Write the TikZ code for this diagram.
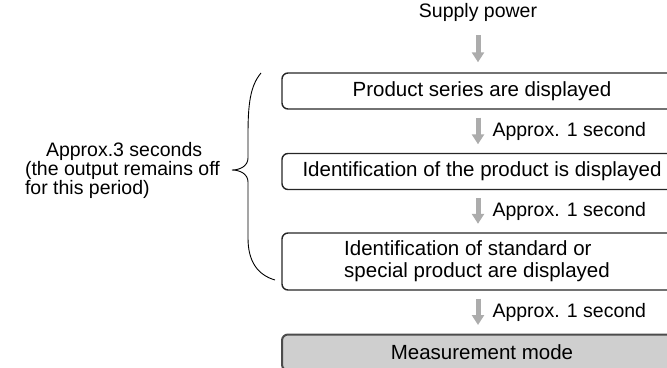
\documentclass[tikz,border=0pt]{standalone}
\usepackage{fontspec}
\setmainfont{Liberation Sans}
\usetikzlibrary{arrows.meta,positioning}

\begin{document}
\begin{tikzpicture}[x=1pt, y=-1pt,
  font=\fontsize{19.5}{22}\selectfont,
  box/.style={draw=black!85, line width=1.4pt, rounded corners=6pt, minimum width=400pt,
              minimum height=36pt, inner sep=0pt, align=left,
              font=\fontsize{20.5}{22}\selectfont},
  garr/.style={-{Triangle[width=12pt, length=10pt]}, line width=5pt, draw=gray!65},
  lbl/.style={midway, right=12pt, inner sep=0pt}
]
  \useasboundingbox (0,0) rectangle (667,367);

  % start-up sequence
  \node[inner sep=0pt] (pwr) at (478,12) {Supply power};
  \node[box] (s1) at (482,91) {Product series are displayed};
  \node[box] (s2) at (482,171.5) {Identification of the product is displayed};
  \node[box, minimum height=57pt] (s3) at (482,261.5) {\hspace*{-10pt}Identification of standard or\\\hspace*{-10pt}special product are displayed};
  \node[box, fill=gray!38, draw=black!70, line width=2pt] (s4) at (482,352.5) {Measurement mode};

  \draw[garr, shorten <=14pt, shorten >=10pt] (pwr.south) -- ([xshift=-4pt]s1.north);
  \draw[garr, shorten <=8pt, shorten >=8.5pt] ([xshift=-4pt]s1.south) -- ([xshift=-4pt]s2.north)
    node[lbl] {Approx. 1 second};
  \draw[garr, shorten <=8pt, shorten >=8.5pt] ([xshift=-4pt]s2.south) -- ([xshift=-4pt]s3.north)
    node[lbl] {Approx. 1 second};
  \draw[garr, shorten <=8pt, shorten >=8.5pt] ([xshift=-4pt]s3.south) -- ([xshift=-4pt]s4.north)
    node[lbl] {Approx. 1 second};

  % brace over the first three steps
  \coordinate (btop) at (261,73);
  \coordinate (btip) at (232,170);
  \coordinate (bbot) at (275,280);
  \draw[line width=0.9pt] (btop) .. controls (250,86) and (248,105) .. (248,135) -- (248,158)
    .. controls (248,166) and (240,170) .. (btip) .. controls (240,170) and (248,174) .. (248,182)
    -- (248,238) .. controls (248,262) and (258,275) .. (bbot);
  \node[left=12pt of btip, inner sep=0pt, align=left, font=\fontsize{19.5}{19}\selectfont] (off)
    {\hspace*{21pt}Approx.3 seconds\\(the output remains off\\for this period)};
\end{tikzpicture}
\end{document}
